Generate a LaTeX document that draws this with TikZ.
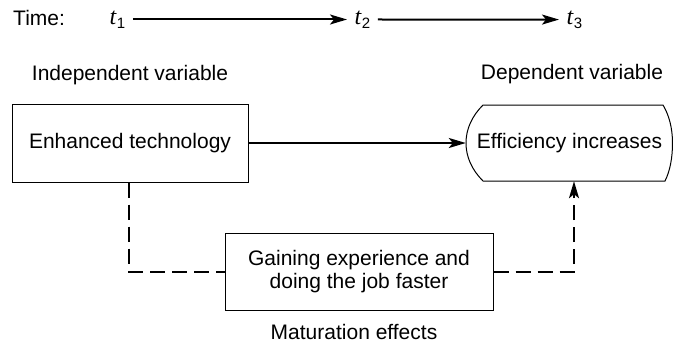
\documentclass[tikz,border=0pt]{standalone}
\usepackage{fontspec}
\setmainfont{Liberation Sans}
\newfontfamily\tfont{Liberation Serif}
\usetikzlibrary{arrows.meta,calc}
\newcommand{\tsub}[1]{{\tfont\itshape t}\kern0.5pt\raisebox{-4.5pt}{\fontsize{15}{15}\selectfont #1}}
\begin{document}
\begin{tikzpicture}[x=1pt,y=-1pt,
  every node/.style={font=\fontsize{21}{23}\selectfont},
  box/.style={draw, line width=1pt, inner sep=0pt},
  lbl/.style={inner sep=0pt},
  tlbl/.style={inner xsep=7.5pt, inner ysep=0pt, anchor=base west, font=\fontsize{24}{26}\selectfont},
  arr/.style={line width=2pt, -{Stealth[length=17pt,width=10pt,inset=4pt]}},
  dashln/.style={line width=2pt, dash pattern=on 15pt off 7pt},
  dasharr/.style={dashln, -{Stealth[length=17pt,width=10pt,inset=4pt]}}]
\useasboundingbox (0,0) rectangle (673,349);
% time line
\node[lbl, anchor=base west] (time) at (13,25) {Time:};
\node[tlbl] (t1) at (102,24) {\tsub{1}};
\node[tlbl] (t2) at (347,24) {\tsub{2}};
\node[tlbl] (t3) at (559,24) {\tsub{3}};
\draw[arr] (t1.east) -- (t2.west);
\draw[arr] (t2.east) -- (t3.west);
% headings
\node[lbl] (indep) at (130,75) {Independent variable};
\node[lbl] (dep) at (572,74) {Dependent variable};
% boxes
\node[box, minimum width=236pt, minimum height=78pt] (enh) at (130,143) {Enhanced technology};
\node[inner sep=0pt, minimum width=207pt, minimum height=76pt] (eff) at (569.5,143) {Efficiency increases};
\draw[line width=1pt] (483,105) -- (663,105)
  .. controls (669,115) and (672.5,128) .. (672.5,143)
  .. controls (672.5,158) and (670,171) .. (665,181) -- (483,181)
  .. controls (472,170) and (466,157) .. (466,143)
  .. controls (466,129) and (472,116) .. (483,105) -- cycle;
\draw[arr] (enh.east) -- (eff.west);
\node[box, minimum width=268pt, minimum height=77pt, align=center] (gain) at (359,271.5) {Gaining experience and\\doing the job faster};
\node[lbl] (mat) at (354,332) {Maturation effects};
% maturation path
\draw[dashln] ([xshift=-1pt]enh.south) |- (gain.west);
\draw[dasharr] (gain.east) -| ([xshift=4.5pt]eff.south);
\end{tikzpicture}
\end{document}
